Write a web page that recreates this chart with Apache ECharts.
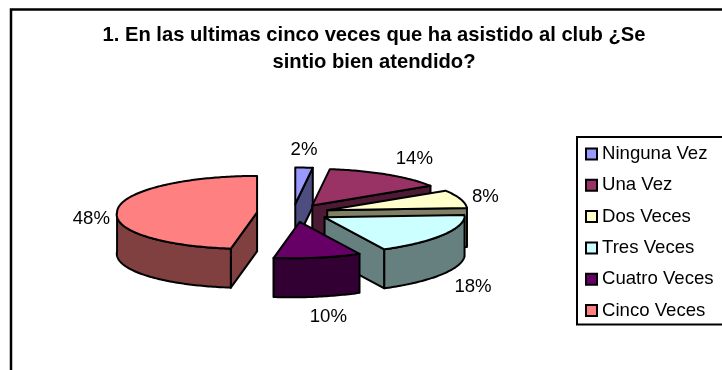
<!DOCTYPE html>
<html>
<head>
<meta charset="utf-8">
<style>html,body{margin:0;padding:0;background:#fff;overflow:hidden}#c{width:722px;height:370px}</style>
<script src="https://cdn.jsdelivr.net/npm/echarts@6/dist/echarts.min.js"></script>
</head>
<body>
<div id="c"></div>
<script>
// Survey answers, in percent
const categories = ['Ninguna Vez', 'Una Vez', 'Dos Veces', 'Tres Veces', 'Cuatro Veces', 'Cinco Veces'];
const values = [2, 14, 8, 18, 10, 48];
const topColors = ['#9999ff', '#993366', '#ffffcc', '#ccffff', '#660066', '#ff8080'];
const sideColors = ['#4d4d80', '#4d1a33', '#808066', '#668080', '#330033', '#804040'];
const titleText = '1. En las ultimas cinco veces que ha asistido al club ¿Se\nsintio bien atendido?';

// Pie projection
const center = [293, 213];
const radiusX = 140, radiusY = 36.5, depth = 39, explode = 36, yScale = 0.25, lean = 0.24;
// Label displacement from the rim point of each slice
const labelNudge = [[0, -18], [27, -16], [25, -2], [30, 52], [11, 59], [-26, 9]];
// Back-to-front paint order of the slices
const paintOrder = [0, 1, 2, 5, 3, 4];

const total = values.reduce((a, b) => a + b, 0);
const startAngles = [];
values.reduce((acc, v, i) => { startAngles[i] = acc; return acc + v; }, 0);
const rad = p => p / total * Math.PI * 2;

function renderSlice(index) {
  return function (params, api) {
    const value = api.value(0);
    const a0 = rad(startAngles[index]), a1 = a0 + rad(value), mid = (a0 + a1) / 2;
    const ox = center[0] + Math.sin(mid) * explode;
    const oy = center[1] - Math.cos(mid) * explode * yScale;
    const rim = t => {
      const dy = -Math.cos(t) * radiusY;
      return [ox + Math.sin(t) * radiusX - lean * Math.max(0, dy), oy + dy];
    };
    const arc = (from, to) => {
      const pts = [], n = Math.max(2, Math.ceil((to - from) * 60));
      for (let i = 0; i <= n; i++) pts.push(rim(from + (to - from) * i / n));
      return pts;
    };
    const down = p => [p[0], p[1] + depth];
    const poly = (points, fill) => ({
      type: 'polygon',
      shape: { points: points },
      style: { fill: fill, stroke: '#000', lineWidth: 2, lineJoin: 'round' }
    });
    const wall = t => {
      const p = rim(t);
      return poly([[ox, oy], p, down(p), [ox, oy + depth]], sideColors[index]);
    };
    const children = [];
    if (Math.sin(a0) < -1e-6) children.push(wall(a0));
    if (Math.sin(a1) > 1e-6) children.push(wall(a1));
    const lo = Math.max(a0, Math.PI / 2), hi = Math.min(a1, Math.PI * 1.5);
    if (hi > lo) {
      const outer = arc(lo, hi);
      children.push(poly(outer.concat(outer.map(down).reverse()), sideColors[index]));
    }
    children.push(poly([[ox, oy]].concat(arc(a0, a1)), topColors[index]));
    const anchor = rim(mid);
    children.push({
      type: 'text',
      z2: 10,
      style: {
        x: anchor[0] + labelNudge[index][0],
        y: anchor[1] + labelNudge[index][1],
        text: value + '%',
        fill: '#000',
        font: '18.6px "Liberation Sans", Arial, sans-serif',
        align: 'center',
        verticalAlign: 'middle'
      }
    });
    return { type: 'group', children: children };
  };
}

const chart = echarts.init(document.getElementById('c'), null, { renderer: 'canvas' });
chart.setOption({
  animation: false,
  backgroundColor: '#fff',
  title: {
    text: titleText,
    left: 369,
    top: 17,
    textAlign: 'center',
    textStyle: {
      color: '#000',
      fontFamily: '"Liberation Sans", Arial, sans-serif',
      fontWeight: 'bold',
      fontSize: 20.2,
      lineHeight: 27
    }
  },
  legend: {
    orient: 'vertical',
    left: 577,
    top: 137,
    padding: [7, 40, 4, 8],
    icon: 'rect',
    itemWidth: 11,
    itemHeight: 11,
    itemGap: 11.3,
    borderColor: '#000',
    borderWidth: 2,
    data: categories,
    selectedMode: false,
    itemStyle: { borderColor: '#000', borderWidth: 2 },
    textStyle: {
      color: '#000',
      fontFamily: '"Liberation Sans", Arial, sans-serif',
      fontSize: 18.6,
      lineHeight: 20
    }
  },
  graphic: [{
    type: 'rect',
    silent: true,
    shape: { x: 11, y: 9.5, width: 900, height: 600 },
    style: { fill: 'none', stroke: '#000', lineWidth: 2.5 }
  }],
  series: paintOrder.map(i => ({
    type: 'custom',
    name: categories[i],
    coordinateSystem: 'none',
    silent: true,
    itemStyle: { color: topColors[i] },
    renderItem: renderSlice(i),
    data: [[values[i]]]
  }))
});
</script>
</body>
</html>
